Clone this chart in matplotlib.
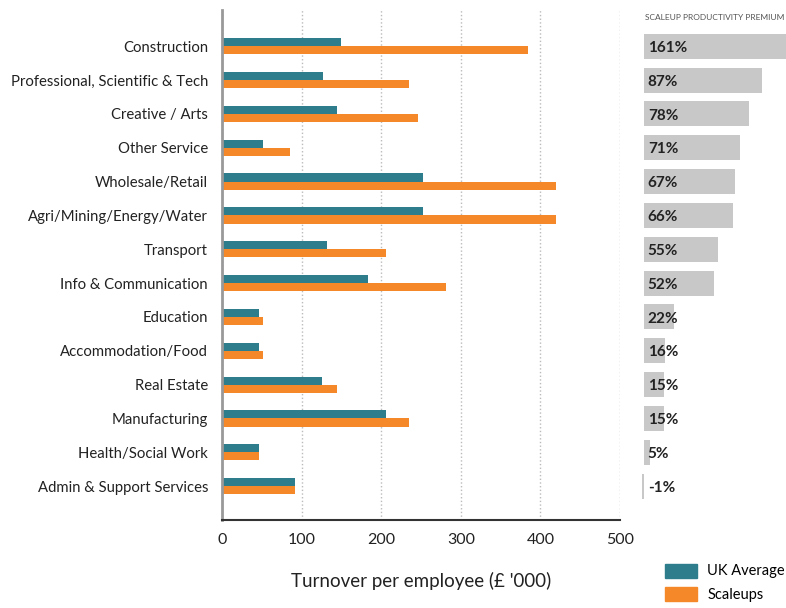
import matplotlib.pyplot as plt
from matplotlib.patches import Patch

plt.rcParams['font.family'] = ['Lato', 'DejaVu Sans']

categorias = ['Construction', 'Professional, Scientific & Tech', 'Creative / Arts',
              'Other Service', 'Wholesale/Retail', 'Agri/Mining/Energy/Water',
              'Transport', 'Info & Communication', 'Education', 'Accommodation/Food',
              'Real Estate', 'Manufacturing', 'Health/Social Work',
              'Admin & Support Services']
uk_average = [150, 127, 144, 52, 253, 253, 132, 184, 46, 46, 126, 206, 46, 92]
scaleups = [384, 235, 246, 86, 419, 419, 206, 281, 52, 52, 144, 235, 46, 92]
premium = [161, 87, 78, 71, 67, 66, 55, 52, 22, 16, 15, 15, 5, -1]

teal = '#2E7D8C'
laranja = '#F5892A'
cinza = '#C8C8C8'

fig = plt.figure(figsize=(7.86, 6.08), dpi=100)
ax = fig.add_axes([222 / 786, 88 / 608, 398 / 786, 510 / 608])
ax2 = fig.add_axes([641 / 786, 88 / 608, 145 / 786, 510 / 608])

y = list(range(len(categorias)))
h = 0.24
ax.barh([i - h / 2 for i in y], uk_average, height=h, color=teal)
ax.barh([i + h / 2 for i in y], scaleups, height=h, color=laranja)

ax.set_ylim(14.0, -1.07)
ax.set_xlim(0, 500)
ax.set_xticks([0, 100, 200, 300, 400, 500])
ax.set_yticks(y)
ax.set_yticklabels(categorias, fontsize=10.7, color='#222222')
ax.tick_params(axis='y', length=0, pad=10)
ax.tick_params(axis='x', labelsize=11.5, colors='#222222', length=0, pad=9)
ax.xaxis.grid(True, linestyle=':', color='#BBBBBB', linewidth=1)
ax.set_axisbelow(True)
for s in ['top', 'right']:
    ax.spines[s].set_visible(False)
ax.spines['left'].set_color('#999999')
ax.spines['left'].set_linewidth(2)
ax.spines['bottom'].set_color('#333333')
ax.spines['bottom'].set_linewidth(1.5)
ax.set_xlabel("Turnover per employee (£ '000)", fontsize=13.5, color='#222222', labelpad=18)

# painel do prêmio de produtividade
ax2.barh(y, premium, height=0.74, color=cinza)
for i, p in enumerate(premium):
    ax2.text(3, i + 0.05, f'{p}%', va='center', ha='left', fontsize=11,
             fontweight='bold', color='#222222')
ax2.set_xlim(-2, 105)
ax2.set_ylim(14.0, -1.07)
ax2.axis('off')
fig.text(645 / 786, 1 - 17 / 608, 'SCALEUP PRODUCTIVITY PREMIUM', fontsize=6,
         color='#555555', va='center', ha='left')

handles = [Patch(color=teal, label='UK Average'), Patch(color=laranja, label='Scaleups')]
fig.legend(handles=handles, loc='lower left', bbox_to_anchor=(652 / 786, -0.012),
           frameon=False, fontsize=10.5, handlelength=2.2, handleheight=1.1,
           labelspacing=0.6, handletextpad=0.7)

fig.savefig('out.png', dpi=100)
